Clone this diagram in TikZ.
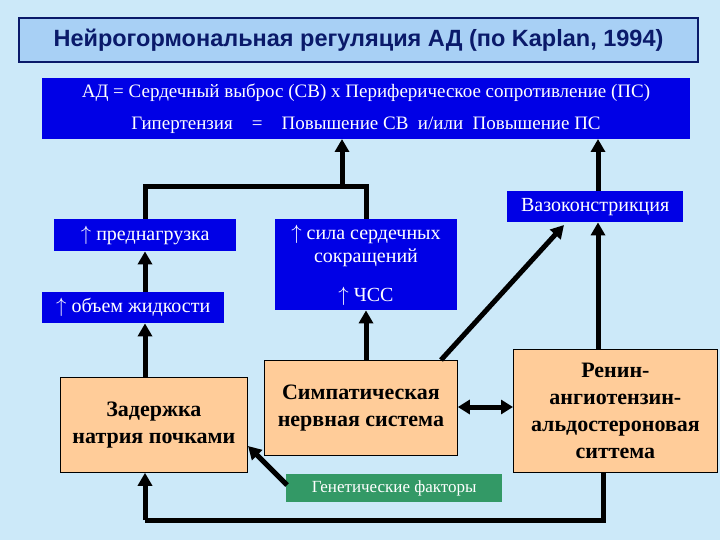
\documentclass[tikz,border=0pt]{standalone}
\usepackage{fontspec}
\setmainfont{Liberation Serif}
\newfontfamily\titlefont{Liberation Sans}
\usetikzlibrary{arrows.meta}
\definecolor{bg}{HTML}{CCE9F9}
\definecolor{tbox}{HTML}{A8D0F5}
\definecolor{navy}{HTML}{0A1A6A}
\definecolor{bblue}{HTML}{0000E6}
\definecolor{peach}{HTML}{FFCC99}
\definecolor{gen}{HTML}{339966}
\tikzset{
  bluebox/.style={fill=bblue,text=white,font=\fontsize{20}{23}\selectfont,inner sep=0pt},
  btext/.style={text=white,font=\fontsize{20}{23}\selectfont},
  eqtext/.style={text=white,font=\fontsize{19}{22}\selectfont},
  peachbox/.style={fill=peach,draw=black,line width=0.8pt,text=black,font=\bfseries\fontsize{22}{27}\selectfont,align=center,inner sep=0pt},
  arr/.style={line width=5pt,-{Triangle[length=13pt,width=14pt]}},
  ln/.style={line width=5pt}
}
\begin{document}
\begin{tikzpicture}[x=1pt,y=-1pt]
\fill[bg] (0,0) rectangle (720,540);
\useasboundingbox (0,0) rectangle (720,540);
% title
\node[draw=navy,line width=2pt,fill=tbox,minimum width=679pt,minimum height=44pt,anchor=north west,inner sep=0pt,text=navy,font=\titlefont\bfseries\fontsize{23.5}{28}\selectfont] (title) at (18,17) {Нейрогормональная регуляция АД (по Kaplan, 1994)};
% equation box
\node[bluebox,minimum width=648pt,minimum height=61pt,anchor=north west] (eq) at (42,78) {};
\node[eqtext] (eq1) at (366,93) {АД = Сердечный выброс (СВ) х Периферическое сопротивление (ПС)};
\node[eqtext] (eq2) at (366,125) {Гипертензия\quad =\quad Повышение СВ\ \ и/или\ \ Повышение ПС};
% blue boxes
\node[bluebox,minimum width=182pt,minimum height=32pt,anchor=north west] (pre) at (54,219) {$\uparrow$ преднагрузка};
\node[bluebox,minimum width=182pt,minimum height=31pt,anchor=north west] (vol) at (42,292) {$\uparrow$ объем жидкости};
\node[bluebox,minimum width=182pt,minimum height=91pt,anchor=north west] (force) at (275,219) {};
\node[btext,align=center] (f1) at (366,246) {$\uparrow$ сила сердечных\\сокращений};
\node[btext] (f2) at (366,296) {$\uparrow$ ЧСС};
\node[bluebox,minimum width=176pt,minimum height=31pt,anchor=north west] (vaso) at (507,191) {Вазоконстрикция};
% peach boxes
\node[peachbox,minimum width=187pt,minimum height=95pt,anchor=north west] (na) at (60,377) {Задержка\\натрия почками};
\node[peachbox,minimum width=193pt,minimum height=95pt,anchor=north west] (sym) at (264,360) {Симпатическая\\нервная система};
\node[peachbox,minimum width=204pt,minimum height=123pt,anchor=north west] (raas) at (513,349) {Ренин-\\ангиотензин-\\альдостероновая\\ситтема};
\node[fill=gen,text=white,minimum width=216pt,minimum height=28pt,anchor=north west,inner sep=0pt,font=\fontsize{17}{20}\selectfont] (gen) at (286,474) {Генетические факторы};
% connectors
\coordinate (bl) at (145,187);
\coordinate (br) at (366,187);
\coordinate (bm) at (342,187);
\coordinate (eqa) at (342,139);
\coordinate (eqb) at (598,139);
\draw[ln] (pre.north -| bl) -- (bl) -- (br) -- (force.north -| br);
\draw[arr] (bm) -- (eqa);
\draw[arr] (vaso.north -| eqb) -- (eqb);
\draw[arr] (vol.north -| bl) -- (pre.south -| bl);
\draw[arr] (na.north -| bl) -- (vol.south -| bl);
\draw[arr] (sym.north -| br) -- (force.south -| br);
\coordinate (vt) at (564,225);
\draw[arr] (441,360) -- (vt);
\draw[arr] (raas.north -| eqb) -- (vaso.south -| eqb);
\draw[line width=5pt,{Triangle[length=12pt,width=14pt]}-{Triangle[length=12pt,width=14pt]}] (sym.east |- 0,407) -- (raas.west |- 0,407);
\draw[arr] (287,485) -- (248,446);
\coordinate (c1) at (603,520);
\coordinate (c2) at (145,520);
\draw[ln] (raas.south -| c1) -- (c1) -- (c2);
\draw[arr] (c2) -- (na.south -| c2);
\end{tikzpicture}
\end{document}
